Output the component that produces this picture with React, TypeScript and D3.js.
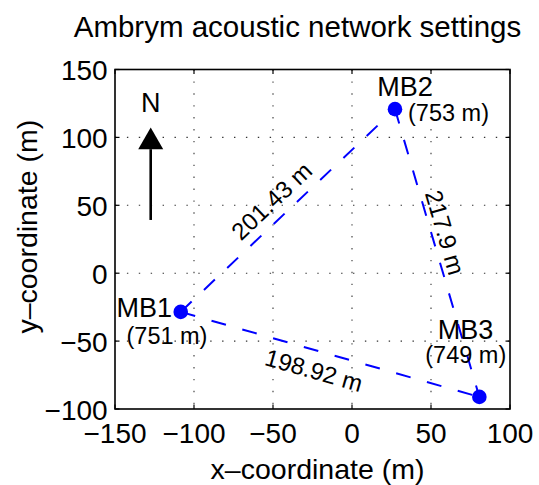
import React from "react";
import * as d3 from "d3";

const W = 539;
const H = 485;

// Data (metres)
const stationNames = ["MB1", "MB2", "MB3"];
const stationX = [-108.4, 27.2, 80.6];
const stationY = [-28.5, 120.8, -91.1];
const elevations = ["(751 m)", "(753 m)", "(749 m)"];

// name label anchors (data units)
const nameX = [-131.5, 33.5, 71.8];
const nameY = [-32.6, 130.6, -48.1];
const elevX = [-117.1, 61.1, 72.0];
const elevY = [-51.8, 112.0, -65.9];

// distance segments (station indices) and labels
const segFrom = [0, 1, 0];
const segTo = [1, 2, 2];
const distLabels = ["201.43 m", "217.9 m", "198.92 m"];
const distX = [-47.2, 53.7, -25.5];
const distY = [48.7, 28.2, -77.5];

// north arrow
const arrowX = -127.4;
const arrowY0 = 39.2;
const arrowY1 = 107.3;

const xTicks = [-150, -100, -50, 0, 50, 100];
const yTicks = [-100, -50, 0, 50, 100, 150];

const FONT = "'Liberation Sans', Arial, Helvetica, sans-serif";

function fmt(v: number) {
  return v < 0 ? "\u2212" + Math.abs(v) : String(v);
}

export default function App() {
  const left = 115, right = 510, top = 69.5, bottom = 409;
  const x = d3.scaleLinear().domain([-150, 100]).range([left, right]);
  const y = d3.scaleLinear().domain([-100, 150]).range([bottom, top]);
  const blue = "#0000ff";
  const tickLen = 4.5;

  const headLen = 21.7;
  const headHalf = 12.5;
  const ax = x(arrowX);
  const ayTip = y(arrowY1);
  const ayBase = y(arrowY0);

  return (
    <svg width={W} height={H} style={{ position: "absolute", left: 0, top: 0, background: "#fff" }} fontFamily={FONT}>
      <rect x={0} y={0} width={W} height={H} fill="#fff" />
      {/* grid */}
      {xTicks.slice(1, -1).map((t) => (
        <line key={"gx" + t} x1={x(t)} x2={x(t)} y1={top} y2={bottom} stroke="#333" strokeWidth={1.1} strokeDasharray="1.4,10.5" />
      ))}
      {yTicks.slice(1, -1).map((t) => (
        <line key={"gy" + t} x1={left} x2={right} y1={y(t)} y2={y(t)} stroke="#333" strokeWidth={1.1} strokeDasharray="1.4,10.5" />
      ))}
      {/* ticks */}
      {xTicks.map((t) => (
        <g key={"tx" + t}>
          <line x1={x(t)} x2={x(t)} y1={bottom} y2={bottom - tickLen} stroke="#000" strokeWidth={1.2} />
          <line x1={x(t)} x2={x(t)} y1={top} y2={top + tickLen} stroke="#000" strokeWidth={1.2} />
          <text x={x(t)} y={443} fontSize={28} textAnchor="middle" fill="#000">{fmt(t)}</text>
        </g>
      ))}
      {yTicks.map((t) => (
        <g key={"ty" + t}>
          <line x1={left} x2={left + tickLen} y1={y(t)} y2={y(t)} stroke="#000" strokeWidth={1.2} />
          <line x1={right} x2={right - tickLen} y1={y(t)} y2={y(t)} stroke="#000" strokeWidth={1.2} />
          <text x={107.7} y={y(t) + 10.5} fontSize={28} textAnchor="end" fill="#000">{fmt(t)}</text>
        </g>
      ))}
      {/* segments */}
      {segFrom.map((a, i) => (
        <line key={"s" + i} x1={x(stationX[a])} y1={y(stationY[a])} x2={x(stationX[segTo[i]])} y2={y(stationY[segTo[i]])}
          stroke={blue} strokeWidth={2} strokeDasharray="15,17" />
      ))}
      {/* distance labels */}
      {distLabels.map((lab, i) => {
        const a = segFrom[i], b = segTo[i];
        const ang = (Math.atan2(y(stationY[b]) - y(stationY[a]), x(stationX[b]) - x(stationX[a])) * 180) / Math.PI;
        const px = x(distX[i]), py = y(distY[i]);
        return (
          <text key={"d" + i} x={px} y={py} fontSize={24} textAnchor="middle" transform={`rotate(${ang},${px},${py})`} fill="#000">{lab}</text>
        );
      })}
      {/* stations */}
      {stationNames.map((n, i) => (
        <g key={n}>
          <circle cx={x(stationX[i])} cy={y(stationY[i])} r={7.3} fill={blue} />
          <text x={x(nameX[i])} y={y(nameY[i])} fontSize={27} textAnchor="middle" fill="#000">{n}</text>
          <text x={x(elevX[i])} y={y(elevY[i])} fontSize={23.5} textAnchor="middle" fill="#000">{elevations[i]}</text>
        </g>
      ))}
      {/* north arrow */}
      <line x1={ax} x2={ax} y1={ayBase} y2={ayTip + headLen} stroke="#000" strokeWidth={2.6} />
      <path d={`M${ax},${ayTip} L${ax - headHalf},${ayTip + headLen} L${ax + headHalf},${ayTip + headLen} Z`} fill="#000" />
      <text x={ax} y={111.7} fontSize={27} textAnchor="middle" fill="#000">N</text>
      {/* axes box */}
      <rect x={left} y={top} width={right - left} height={bottom - top} fill="none" stroke="#000" strokeWidth={1.6} />
      {/* labels */}
      <text x={297.5} y={36.7} fontSize={29.5} textAnchor="middle" fill="#000">Ambrym acoustic network settings</text>
      <text x={317.5} y={479} fontSize={28.5} textAnchor="middle" fill="#000">x{"\u2013"}coordinate (m)</text>
      <text x={37} y={226.7} fontSize={28.5} textAnchor="middle" transform="rotate(-90,37,226.7)" fill="#000">y{"\u2013"}coordinate (m)</text>
    </svg>
  );
}
